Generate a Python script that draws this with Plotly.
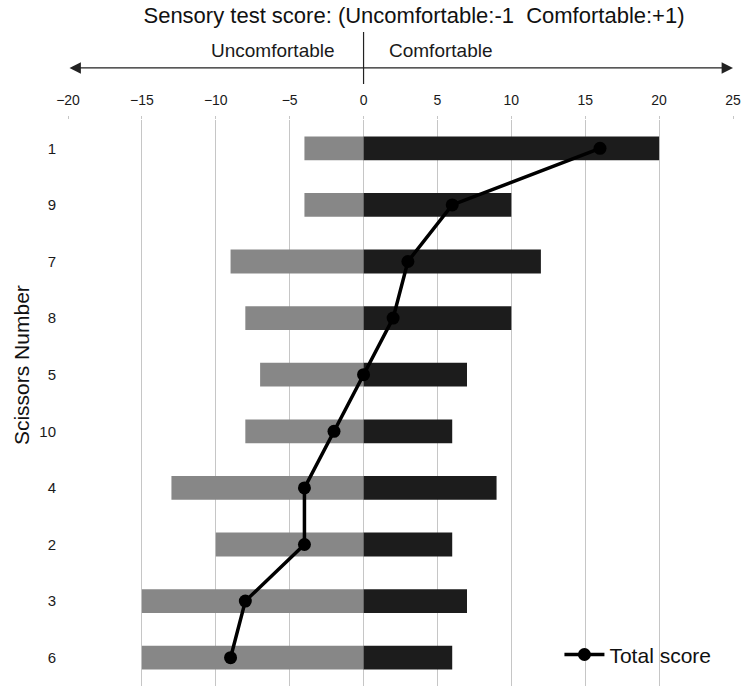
import plotly.graph_objects as go

scissors = ["1", "9", "7", "8", "5", "10", "4", "2", "3", "6"]
uncomfortable = [-4, -4, -9, -8, -7, -8, -13, -10, -15, -15]
comfortable = [20, 10, 12, 10, 7, 6, 9, 6, 7, 6]
total_score = [16, 6, 3, 2, 0, -2, -4, -4, -8, -9]
x_ticks = [-20, -15, -10, -5, 0, 5, 10, 15, 20, 25]

FONT = "Liberation Sans, Arial, sans-serif"

fig = go.Figure()
fig.add_trace(go.Bar(y=scissors, x=uncomfortable, orientation="h",
                     marker=dict(color="#878787", line=dict(width=0)),
                     width=0.42, showlegend=False, hoverinfo="x+y"))
fig.add_trace(go.Bar(y=scissors, x=comfortable, orientation="h",
                     marker=dict(color="#1c1c1c", line=dict(width=0)),
                     width=0.42, showlegend=False, hoverinfo="x+y"))
fig.add_trace(go.Scatter(y=scissors, x=total_score, mode="lines+markers",
                         name="Total score",
                         line=dict(color="black", width=3.5),
                         marker=dict(color="black", size=13)))

arrow_y = 1.092
fig.add_annotation(x=25, y=arrow_y, xref="x", yref="paper",
                   ax=-20, ay=0, axref="x", ayref="pixel",
                   showarrow=True, arrowside="end+start", arrowhead=2,
                   startarrowhead=2, arrowsize=1.9, startarrowsize=1.9,
                   arrowwidth=1.2, arrowcolor="#222", text="")
fig.add_shape(type="line", x0=0, x1=0, xref="x", yref="paper",
              y0=1.0636, y1=1.1555, line=dict(color="#222", width=1.2))
fig.add_annotation(x=0, y=1.122, xref="x", yref="paper", text="Uncomfortable",
                   showarrow=False, xanchor="right", yanchor="middle", xshift=-27,
                   font=dict(family=FONT, size=19, color="#1a1a1a"))
fig.add_annotation(x=0, y=1.122, xref="x", yref="paper", text="Comfortable",
                   showarrow=False, xanchor="left", yanchor="middle", xshift=23,
                   font=dict(family=FONT, size=19, color="#1a1a1a"))
# y-axis title
fig.add_annotation(x=-0.0707, y=0.567, xref="paper", yref="paper",
                   text="Scissors Number", textangle=-90, showarrow=False,
                   xanchor="center", yanchor="middle",
                   font=dict(family=FONT, size=21, color="#111"))

fig.update_layout(
    width=750, height=691,
    margin=dict(l=68, r=17, t=120, b=5),
    paper_bgcolor="white", plot_bgcolor="white",
    barmode="overlay",
    font=dict(family=FONT, color="#1a1a1a"),
    title=dict(text="Sensory test score: (Uncomfortable:-1\u00a0\u00a0Comfortable:+1)",
               x=0.552, xanchor="center", y=0.978, yanchor="middle",
               font=dict(family=FONT, size=22, color="#111")),
    xaxis=dict(side="top", range=[-20, 25], tickvals=x_ticks,
               showgrid=True, gridcolor="#c6c6c6", gridwidth=1.4,
               zeroline=True, zerolinecolor="#c6c6c6", zerolinewidth=1.4,
               showline=False, ticks="outside", ticklen=3,
               ticklabelstandoff=5, automargin=False,
               tickcolor="#c6c6c6", tickfont=dict(size=14, color="#1a1a1a")),
    yaxis=dict(type="category", categoryorder="array", categoryarray=scissors,
               range=[9.5, -0.5], automargin=False,
               showgrid=False, showline=False, zeroline=False,
               ticks="", ticklabelstandoff=11,
               tickfont=dict(size=15, color="#1a1a1a")),
    legend=dict(x=0.739, y=0.055, xanchor="left", yanchor="middle",
                bgcolor="rgba(0,0,0,0)", itemwidth=40,
                font=dict(family=FONT, size=21, color="#111")),
)

fig.write_html("out.html")
